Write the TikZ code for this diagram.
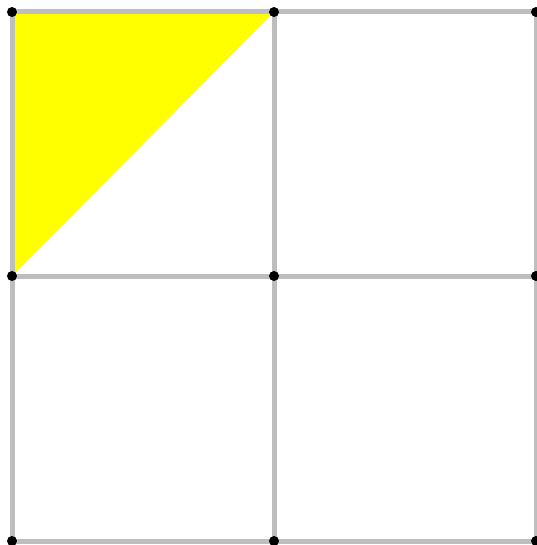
\documentclass[tikz,border=0pt]{standalone}
\definecolor{gridgray}{RGB}{190,190,190}
\definecolor{pureyellow}{RGB}{255,255,0}
\begin{document}
\begin{tikzpicture}[x=1pt,y=-1pt,
  gridline/.style={draw=gridgray,line width=5pt},
  dot/.style={circle,fill=black,inner sep=0pt,minimum size=10pt}]
\useasboundingbox (0,0) rectangle (536,545);
\fill[pureyellow] (12,12) -- (274,12) -- (12,276) -- cycle;
\draw[gridline] (12,12) -- (536,12) (12,276) -- (536,276) (12,541) -- (536,541);
\draw[gridline] (12,12) -- (12,541) (274,12) -- (274,541) (536,12) -- (536,541);
\foreach \x/\i in {12/a,274/b,536/c}
  \foreach \y/\j in {12/1,276/2,541/3}
    \node[dot] (p\i\j) at (\x,\y) {};
\end{tikzpicture}
\end{document}
